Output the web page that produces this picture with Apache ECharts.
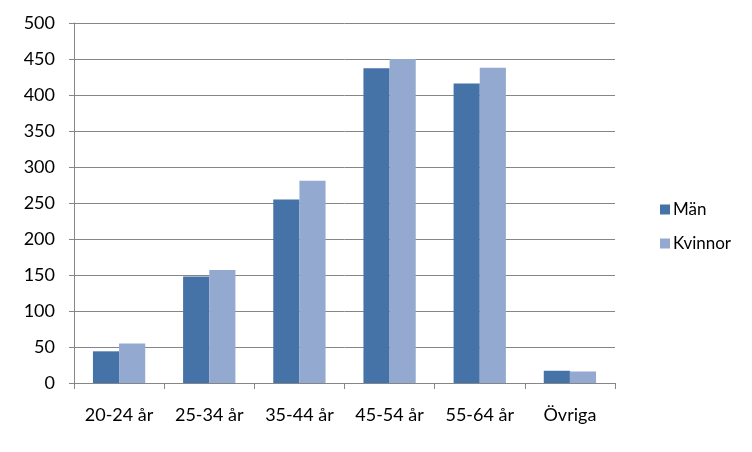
<!DOCTYPE html>
<html>
<head>
<meta charset="utf-8">
<script src="https://cdn.jsdelivr.net/npm/echarts@6/dist/echarts.min.js"></script>
<style>
  html, body { margin: 0; padding: 0; background: #fff; }
  #main { width: 752px; height: 452px; }
</style>
</head>
<body>
<div id="main"></div>
<script>
// kategorier och värden
const categories = ['20-24 år', '25-34 år', '35-44 år', '45-54 år', '55-64 år', 'Övriga']
const man = [44, 148, 255, 437, 416, 17]
const kvinnor = [55, 157, 281, 450, 438, 16]
const yTicks = [0, 50, 100, 150, 200, 250, 300, 350, 400, 450, 500]

const font = 'Lato, "Open Sans", sans-serif'
const myChart = echarts.init(document.getElementById('main'))

const option = {
  backgroundColor: '#fff',
  animation: false,
  textStyle: { fontFamily: font },
  grid: { left: 74, right: 137, top: 23, bottom: 69, containLabel: false },
  legend: {
    orient: 'vertical',
    left: 655,
    top: 196,
    itemWidth: 10,
    itemHeight: 10,
    itemGap: 17,
    icon: 'rect',
    textStyle: { fontFamily: font, fontSize: 17, color: '#000', padding: [0, 0, 0, -2] },
    data: ['Män', 'Kvinnor']
  },
  xAxis: {
    type: 'category',
    data: categories,
    axisLine: { lineStyle: { color: '#868686' } },
    axisTick: { show: true, alignWithLabel: false, length: 6, lineStyle: { color: '#868686' } },
    axisLabel: { color: '#000', fontSize: 18, margin: 23, fontFamily: font }
  },
  yAxis: {
    type: 'value',
    min: yTicks[0],
    max: yTicks[yTicks.length - 1],
    interval: yTicks[1] - yTicks[0],
    axisLine: { show: true, lineStyle: { color: '#868686' } },
    axisTick: { show: true, inside: false, length: 5, lineStyle: { color: '#868686' } },
    axisLabel: { color: '#000', fontSize: 18, margin: 19, fontFamily: font },
    splitLine: { lineStyle: { color: '#868686', width: 1 } }
  },
  series: [
    {
      name: 'Män',
      type: 'bar',
      data: man,
      barGap: '0%',
      barCategoryGap: '42%',
      itemStyle: { color: '#4572A7' }
    },
    {
      name: 'Kvinnor',
      type: 'bar',
      data: kvinnor,
      barGap: '0%',
      barCategoryGap: '42%',
      itemStyle: { color: '#93A9CF' }
    }
  ]
}

option && myChart.setOption(option)
</script>
</body>
</html>
